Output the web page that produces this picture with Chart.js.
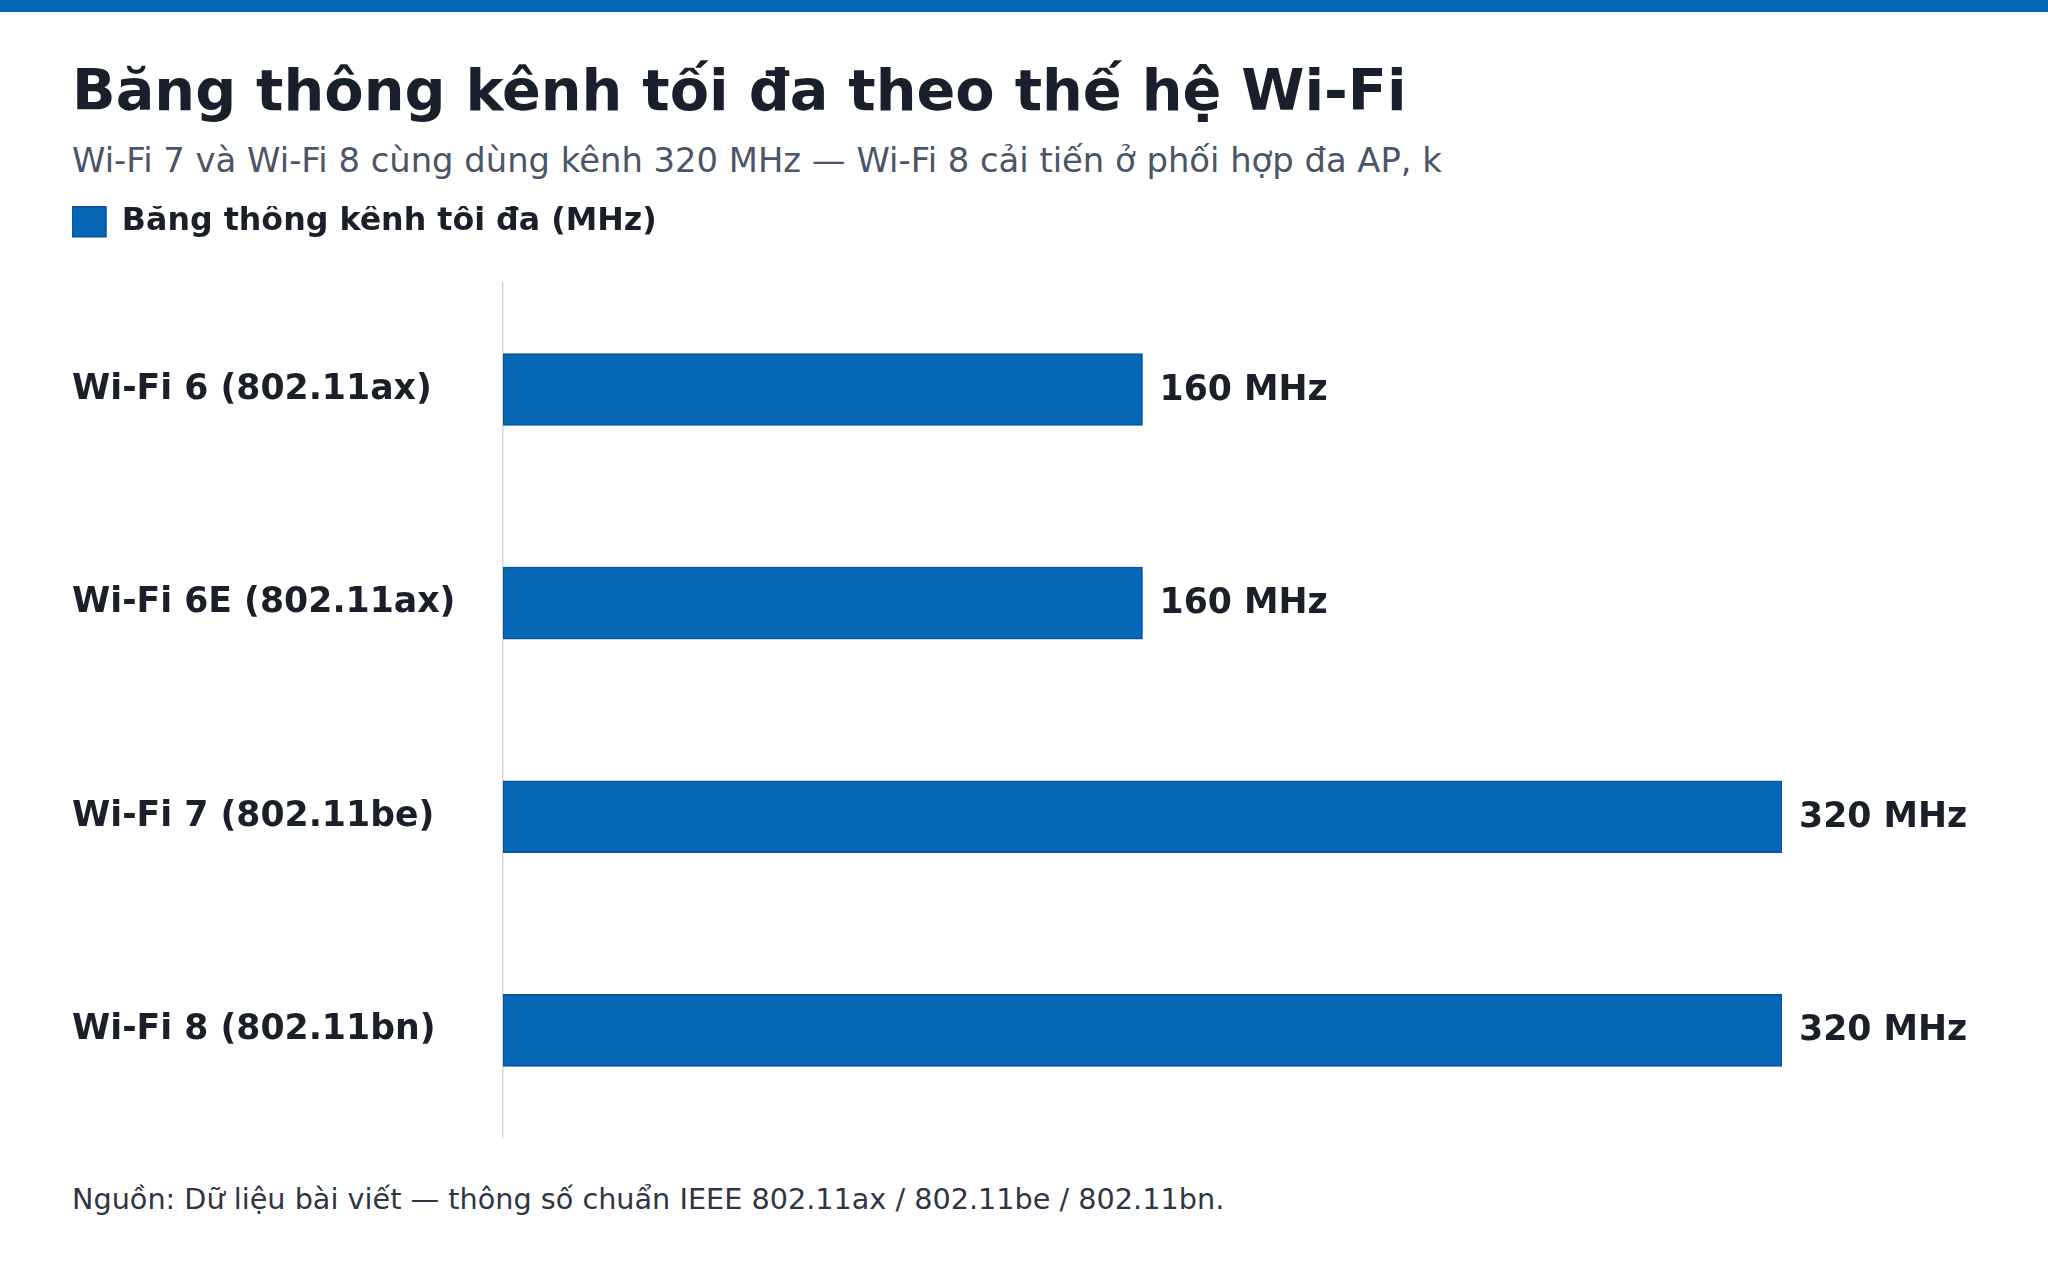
<!DOCTYPE html>
<html lang="vi">
<head>
<meta charset="utf-8">
<title>Băng thông kênh tối đa theo thế hệ Wi-Fi</title>
<script src="https://cdn.jsdelivr.net/npm/chart.js@4.4.1/dist/chart.umd.min.js"></script>
<style>
    html, body { margin: 0; padding: 0; background: #fff; }
    body { width: 2048px; height: 1280px; position: relative; overflow: hidden; font-family: "DejaVu Sans", sans-serif; }
    .topbar { position: absolute; left: 0; top: 0; width: 2048px; height: 12px; background: #0567b6; }
    .title { position: absolute; left: 72px; top: 62px; font-size: 57.3px; line-height: 1; font-weight: bold; color: #1a1f2c; white-space: nowrap; }
    .subtitle { position: absolute; left: 72px; top: 144px; font-size: 33.8px; line-height: 1; color: #4a5568; white-space: nowrap; }
    .footer { position: absolute; left: 72px; top: 1185px; font-size: 28.7px; line-height: 1; color: #2f3542; white-space: nowrap; }
    #wrap { position: absolute; left: 72px; top: 206px; width: 1976px; height: 952px; }
</style>
</head>
<body>
<div class="topbar"></div>
<div class="title">Băng thông kênh tối đa theo thế hệ Wi-Fi</div>
<div class="subtitle">Wi-Fi 7 và Wi-Fi 8 cùng dùng kênh 320 MHz — Wi-Fi 8 cải tiến ở phối hợp đa AP, k</div>
<div id="wrap"><canvas id="bandwidthChart"></canvas></div>
<div class="footer">Nguồn: Dữ liệu bài viết — thông số chuẩn IEEE 802.11ax / 802.11be / 802.11bn.</div>

<script>
'use strict'

const generations = ['Wi-Fi 6 (802.11ax)', 'Wi-Fi 6E (802.11ax)', 'Wi-Fi 7 (802.11be)', 'Wi-Fi 8 (802.11bn)'];
const maxBandwidth = [160, 160, 320, 320];
const seriesLabel = 'Băng thông kênh tối đa (MHz)';
const unit = 'MHz';

const blue = '#0567b6';
const ink = '#1b1f2a';

// extra room between legend and bars
const legendGap = {
    id: 'legendGap',
    beforeInit(chart) {
        const origFit = chart.legend.fit;
        chart.legend.fit = function () {
            origFit.call(this);
            this.height += 35;
        };
    }
};

// "160 MHz" text at the end of each bar
const valueLabels = {
    id: 'valueLabels',
    afterDatasetsDraw(chart) {
        const ctx = chart.ctx;
        const meta = chart.getDatasetMeta(0);
        ctx.save();
        ctx.font = 'bold 34.7px "DejaVu Sans"';
        ctx.fillStyle = ink;
        ctx.textAlign = 'left';
        ctx.textBaseline = 'middle';
        meta.data.forEach((bar, i) => {
            ctx.fillText(maxBandwidth[i] + ' ' + unit, bar.x + 17, bar.y + 1);
        });
        ctx.restore();
    }
};

const ctx = document.getElementById('bandwidthChart');
new Chart(ctx, {
    type: 'bar',
    data: {
        labels: generations,
        datasets: [{
            label: seriesLabel,
            data: maxBandwidth,
            backgroundColor: blue,
            borderColor: '#0b4f9e',
            borderWidth: 1.5,
            borderSkipped: false,
            barThickness: 72
        }]
    },
    options: {
        indexAxis: 'y',
        responsive: true,
        maintainAspectRatio: false,
        animation: false,
        layout: { padding: { left: 0, right: 266, top: 0, bottom: 0 } },
        plugins: {
            tooltip: { enabled: false },
            legend: {
                display: true,
                position: 'top',
                align: 'start',
                labels: {
                    boxWidth: 34,
                    boxHeight: 30,
                    padding: 0,
                    color: ink,
                    font: { family: 'DejaVu Sans', size: 31.7, weight: 'bold' }
                }
            }
        },
        scales: {
            x: {
                display: false,
                min: 0,
                max: 320
            },
            y: {
                afterFit(scale) { scale.width = 431; },
                grid: { display: false, drawTicks: false },
                border: { display: true, color: '#d3d7dd', width: 1.5 },
                ticks: {
                    crossAlign: 'far',
                    padding: 0,
                    color: ink,
                    font: { family: 'DejaVu Sans', size: 34.7, weight: 'bold' }
                }
            }
        }
    },
    plugins: [legendGap, valueLabels]
});
</script>
</body>
</html>
